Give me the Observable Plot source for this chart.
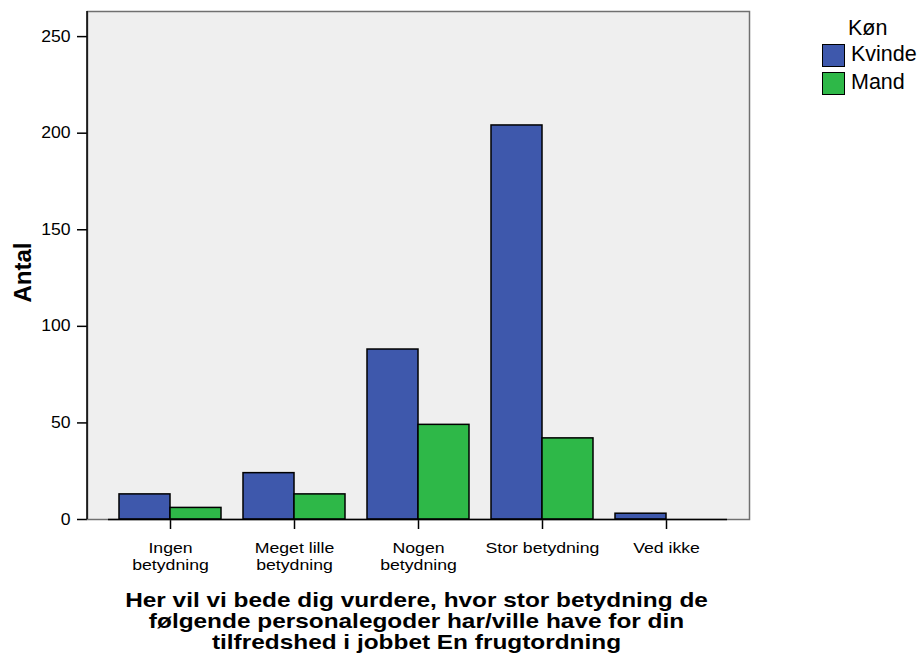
<!DOCTYPE html>
<html>
<head>
<meta charset="utf-8">
<script src="https://cdn.jsdelivr.net/npm/d3@7"></script>
<script src="https://cdn.jsdelivr.net/npm/@observablehq/plot@0.6"></script>
<style>
  html, body { margin: 0; padding: 0; background: #ffffff; }
  #wrap { position: relative; width: 920px; height: 660px; font-family: "Liberation Sans", Arial, sans-serif; }
  #legend { position: absolute; left: 822px; top: 15px; font-size: 21.5px; color: #000; line-height: 1; }
  #legend .title { margin-left: 26px; height: 26px; line-height: 26px; }
  #legend .row { display: flex; align-items: center; height: 28px; }
  #legend .sw { width: 23px; height: 23px; border: 1.5px solid #000; margin-right: 6px; box-sizing: border-box; }
</style>
</head>
<body>
<div id="wrap"></div>
<script>
const categories = ["Ingen betydning", "Meget lille betydning", "Nogen betydning", "Stor betydning", "Ved ikke"];
const tickLabels = ["Ingen\nbetydning", "Meget lille\nbetydning", "Nogen\nbetydning", "Stor betydning", "Ved ikke"];
const series = ["Kvinde", "Mand"];
const kvinde = [13, 24, 88, 204, 3];
const mand = [6, 13, 49, 42, 0];
const yTicks = [0, 50, 100, 150, 200, 250];
const colors = ["#3e58ac", "#2eb848"];
const xTitle = "Her vil vi bede dig vurdere, hvor stor betydning de\nfølgende personalegoder har/ville have for din\ntilfredshed i jobbet En frugtordning";
const yTitle = "Antal";
const legendTitle = "Køn";

const rows = [];
categories.forEach((c, i) => {
  rows.push({cat: c, sex: series[0], n: kvinde[i]});
  rows.push({cat: c, sex: series[1], n: mand[i]});
});
const labelRows = categories.map((c, i) => ({cat: c, label: tickLabels[i]}));

const chart = Plot.plot({
  width: 920,
  height: 660,
  marginLeft: 87,
  marginRight: 171,
  marginTop: 11,
  marginBottom: 141,
  style: {fontFamily: "'Liberation Sans', Arial, sans-serif", fontSize: "16px", background: "#ffffff", color: "#000"},
  x: {domain: categories, paddingInner: 0.1774, paddingOuter: 0.258, tickSize: 10, tickFormat: () => "", label: null},
  y: {domain: [0, 263], ticks: yTicks, tickSize: 10, tickFormat: () => "", label: null},
  color: {domain: series, range: colors},
  marks: [
    Plot.frame({fill: "#efefef", stroke: "#707070", strokeWidth: 1.5}),
    Plot.barY(rows.filter(d => d.sex === series[0]), {x: "cat", y: "n", fill: "sex", stroke: "#000", strokeWidth: 1.5, insetRight: 51}),
    Plot.barY(rows.filter(d => d.sex === series[1]), {x: "cat", y: "n", fill: "sex", stroke: "#000", strokeWidth: 1.5, insetLeft: 51}),
    Plot.ruleY([0], {stroke: "#000", strokeWidth: 1.5, insetLeft: 21, insetRight: 22}),
    Plot.text(yTicks, {y: d => d, text: d => String(d), frameAnchor: "left", textAnchor: "end", dx: -17, fontSize: 16, fill: "#000"}),
    Plot.text(labelRows, {x: "cat", text: "label", frameAnchor: "bottom", textAnchor: "middle", lineAnchor: "top", dy: 22, fontSize: 15.5, lineHeight: 1.08, fill: "#000"}),
    Plot.text([xTitle], {text: d => d, frameAnchor: "bottom", textAnchor: "middle", lineAnchor: "top", dy: 72, dx: -2, fontSize: 20, fontWeight: "bold", lineHeight: 1.06, fill: "#000"}),
    Plot.text([yTitle], {text: d => d, frameAnchor: "left", textAnchor: "middle", rotate: -90, dx: -64, dy: 7, fontSize: 24, fontWeight: "bold", fill: "#000"})
  ]
});

const wrap = document.getElementById("wrap");
wrap.appendChild(chart);

const svg = d3.select(chart);
// the reference's lettering is horizontally wide: stretch the non-rotated texts about their anchors
svg.selectAll("g[aria-label='text'] text").each(function() {
  const el = d3.select(this);
  const tr = el.attr("transform") || "";
  if (tr.includes("rotate")) return;
  const g = d3.select(this.parentNode);
  const bold = (el.attr("font-weight") || g.attr("font-weight")) === "bold";
  const fs = +(el.attr("font-size") || g.attr("font-size") || 16);
  const sx = bold ? 1.22 : (fs < 16 ? 1.14 : 1.1);
  el.attr("transform", tr + ` scale(${sx},1)`);
});

// black left axis line and thicker tick marks, positioned from Plot's own scales
const xs = chart.scale("x"), ys = chart.scale("y");
svg.selectAll("[aria-label='y-axis tick'] path, [aria-label='x-axis tick'] path, g[aria-label='y-axis'] line, g[aria-label='x-axis'] line")
  .attr("stroke-width", 1.5);
svg.append("line")
  .attr("x1", xs.range[0]).attr("x2", xs.range[0])
  .attr("y1", ys.range[0]).attr("y2", ys.range[1])
  .attr("stroke", "#000").attr("stroke-width", 1.5);

const legend = document.createElement("div");
legend.id = "legend";
const t = document.createElement("div");
t.className = "title";
t.textContent = legendTitle;
legend.appendChild(t);
series.forEach((s, i) => {
  const r = document.createElement("div");
  r.className = "row";
  const sw = document.createElement("div");
  sw.className = "sw";
  sw.style.background = colors[i];
  const lab = document.createElement("span");
  lab.textContent = s;
  r.appendChild(sw);
  r.appendChild(lab);
  legend.appendChild(r);
});
wrap.appendChild(legend);
</script>
</body>
</html>
